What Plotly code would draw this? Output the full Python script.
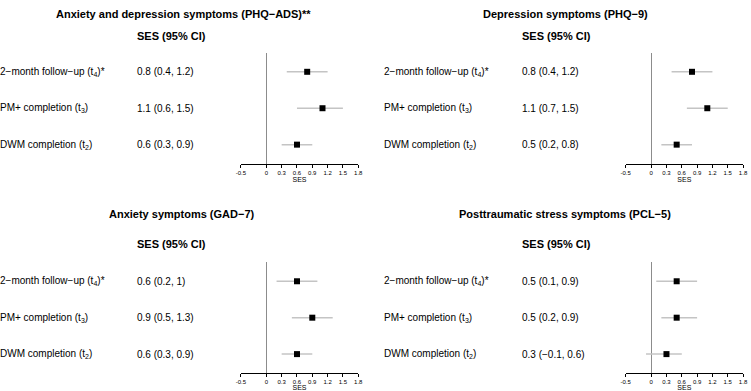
import plotly.graph_objects as go

W, H = 751, 391

panel_titles = [
    "Anxiety and depression symptoms (PHQ−ADS)**",
    "Depression symptoms (PHQ−9)",
    "Anxiety symptoms (GAD−7)",
    "Posttraumatic stress symptoms (PCL−5)",
]
row_labels = [
    "2−month follow−up (t<sub>4</sub>)*",
    "PM+ completion (t<sub>3</sub>)",
    "DWM completion (t<sub>2</sub>)",
]
row_pos = [3, 2, 1]

est = [
    [0.8, 1.1, 0.6],
    [0.8, 1.1, 0.5],
    [0.6, 0.9, 0.6],
    [0.5, 0.5, 0.3],
]
lo = [
    [0.4, 0.6, 0.3],
    [0.4, 0.7, 0.2],
    [0.2, 0.5, 0.3],
    [0.1, 0.2, -0.1],
]
hi = [
    [1.2, 1.5, 0.9],
    [1.2, 1.5, 0.8],
    [1.0, 1.3, 0.9],
    [0.9, 0.9, 0.6],
]
est_text = [
    ["0.8 (0.4, 1.2)", "1.1 (0.6, 1.5)", "0.6 (0.3, 0.9)"],
    ["0.8 (0.4, 1.2)", "1.1 (0.7, 1.5)", "0.5 (0.2, 0.8)"],
    ["0.6 (0.2, 1)", "0.9 (0.5, 1.3)", "0.6 (0.3, 0.9)"],
    ["0.5 (0.1, 0.9)", "0.5 (0.2, 0.9)", "0.3 (−0.1, 0.6)"],
]
tick_vals = [-0.5, 0, 0.3, 0.6, 0.9, 1.2, 1.5, 1.8]
tick_text = ["-0.5", "0", "0.3", "0.6", "0.9", "1.2", "1.5", "1.8"]
x_range = [-0.5, 1.8]
y_range = [0.48, 3.52]

# layout in pixels
plot_x = [(239, 358), (629, 748)]
label_x = [-7, 382]
est_x = [132, 522]
title_cx = [(181, 14), (568, 14), (179, 215), (568, 215)]
plot_y = [(53, 164), (263, 374)]
header_y = [36, 245]

FONT = "Liberation Sans, Arial, sans-serif"
fig = go.Figure()
layout = dict(
    width=W, height=H, margin=dict(l=0, r=0, t=0, b=0),
    paper_bgcolor="white", plot_bgcolor="white", showlegend=False,
    font=dict(family=FONT, color="black"),
)
annotations = []


def row_to_paper(v, dom):
    return dom[0] + (v - y_range[0]) / (y_range[1] - y_range[0]) * (dom[1] - dom[0])


for p in range(4):
    r, c = divmod(p, 2)
    idx = "" if p == 0 else str(p + 1)
    xa, ya = "x" + idx, "y" + idx
    x0, x1 = plot_x[c]
    y0, y1 = plot_y[r]
    ydom = [1 - y1 / H, 1 - y0 / H]
    layout["xaxis" + idx] = dict(
        domain=[x0 / W, x1 / W], range=x_range, anchor=ya,
        tickvals=tick_vals, ticktext=tick_text, ticks="outside", ticklen=3,
        tickwidth=1, tickcolor="black", showline=True, linecolor="black",
        linewidth=1, showgrid=False, zeroline=True, zerolinecolor="#8c8c8c",
        zerolinewidth=1, tickfont=dict(size=6, family=FONT),
        title=dict(text="SES", font=dict(size=7, family=FONT), standoff=1),
        fixedrange=True,
    )
    layout["yaxis" + idx] = dict(
        domain=ydom, range=y_range, anchor=xa,
        visible=False, showgrid=False, zeroline=False, fixedrange=True,
    )
    for i in range(3):
        fig.add_trace(go.Scatter(
            x=[lo[p][i], hi[p][i]], y=[row_pos[i], row_pos[i]], xaxis=xa, yaxis=ya,
            mode="lines", line=dict(color="#c4c4c4", width=1.5), hoverinfo="skip",
            cliponaxis=False,
        ))
    fig.add_trace(go.Scatter(
        x=est[p], y=row_pos, xaxis=xa, yaxis=ya, mode="markers",
        marker=dict(symbol="square", color="black", size=6), cliponaxis=False,
    ))
    tx, ty = title_cx[p]
    annotations.append(dict(
        text="<b>" + panel_titles[p] + "</b>", x=tx / W, y=1 - ty / H,
        xref="paper", yref="paper", xanchor="center", yanchor="middle",
        showarrow=False, font=dict(size=11, family=FONT),
    ))
    annotations.append(dict(
        text="<b>SES (95% CI)</b>", x=est_x[c] / W, y=1 - header_y[r] / H,
        xref="paper", yref="paper", xanchor="left", yanchor="middle",
        showarrow=False, font=dict(size=11, family=FONT),
    ))
    for i in range(3):
        yp = row_to_paper(row_pos[i], ydom)
        annotations.append(dict(
            text=row_labels[i], x=label_x[c] / W, y=yp,
            xref="paper", yref="paper", xanchor="left", yanchor="middle",
            showarrow=False, font=dict(size=10, family=FONT),
        ))
        annotations.append(dict(
            text=est_text[p][i], x=est_x[c] / W, y=yp,
            xref="paper", yref="paper", xanchor="left", yanchor="middle",
            showarrow=False, font=dict(size=10, family=FONT),
        ))

layout["annotations"] = annotations
fig.update_layout(**layout)
fig.write_html("out.html", config={"displayModeBar": False},
               post_script="document.body.style.margin='0px';")
